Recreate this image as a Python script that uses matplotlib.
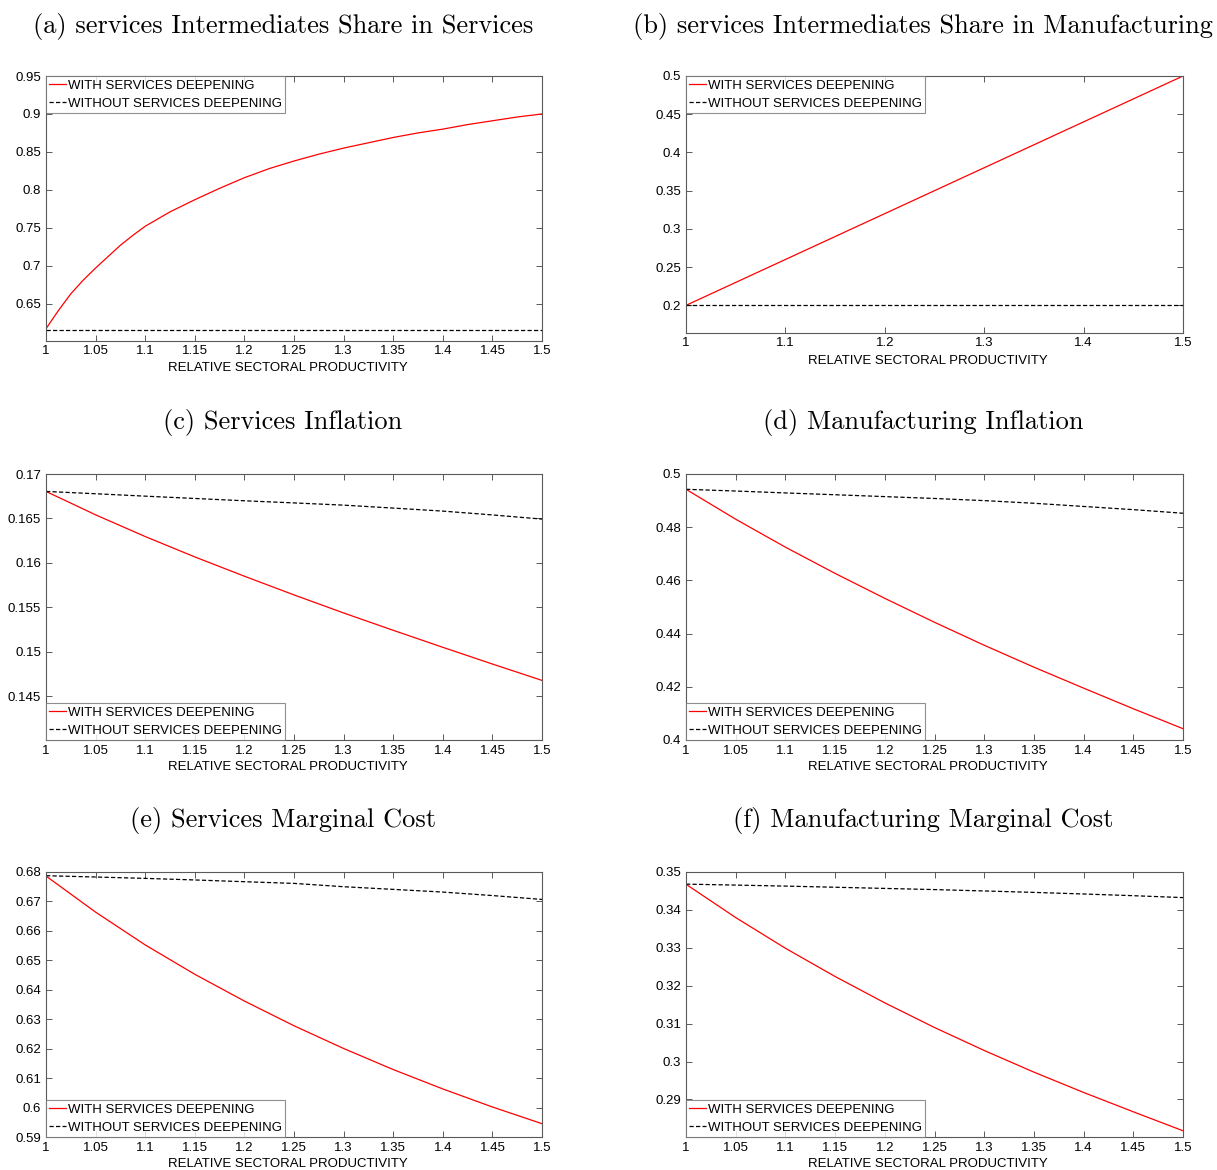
import matplotlib
matplotlib.use('Agg')
import matplotlib.pyplot as plt
from matplotlib.ticker import FuncFormatter

# ---------------- data ----------------
x_fine = [1.0, 1.0125, 1.025, 1.0375, 1.05, 1.0625, 1.075, 1.0875, 1.1, 1.125, 1.15, 1.175,
          1.2, 1.225, 1.25, 1.275, 1.3, 1.325, 1.35, 1.375, 1.4, 1.425, 1.45, 1.475, 1.5]
a_with = [0.617, 0.641, 0.663, 0.681, 0.697, 0.712, 0.727, 0.740, 0.752, 0.771, 0.787, 0.802,
          0.816, 0.828, 0.838, 0.847, 0.855, 0.862, 0.869, 0.875, 0.880, 0.886, 0.891, 0.896, 0.900]
a_without = [0.615] * len(x_fine)

x_b = [1.0, 1.1, 1.2, 1.3, 1.4, 1.5]
b_with = [0.2, 0.26, 0.32, 0.38, 0.44, 0.5]
b_without = [0.2, 0.2, 0.2, 0.2, 0.2, 0.2]

x = [1.0, 1.05, 1.1, 1.15, 1.2, 1.25, 1.3, 1.35, 1.4, 1.45, 1.5]
c_with = [0.16804, 0.16541, 0.16297, 0.16068, 0.15851, 0.15641, 0.15438, 0.15243, 0.15052, 0.14864, 0.14680]
c_without = [0.16804, 0.16778, 0.16751, 0.16725, 0.16699, 0.16675, 0.16650, 0.16617, 0.16583, 0.16540, 0.16493]

d_with = [0.49425, 0.48300, 0.47250, 0.46263, 0.45325, 0.44425, 0.43563, 0.42738, 0.41950, 0.41175, 0.40425]
d_without = [0.49425, 0.49360, 0.49288, 0.49220, 0.49150, 0.49080, 0.49000, 0.48900, 0.48780, 0.48660, 0.48525]

e_with = [0.67863, 0.66637, 0.65524, 0.64526, 0.63617, 0.62778, 0.62006, 0.61291, 0.60632, 0.60019, 0.59452]
e_without = [0.67874, 0.67830, 0.67783, 0.67730, 0.67670, 0.67613, 0.67500, 0.67410, 0.67318, 0.67200, 0.67068]

f_with = [0.34677, 0.33798, 0.32989, 0.32243, 0.31548, 0.30898, 0.30292, 0.29721, 0.29185, 0.28675, 0.28174]
f_without = [0.34680, 0.34655, 0.34628, 0.34598, 0.34567, 0.34536, 0.34500, 0.34462, 0.34420, 0.34375, 0.34325]

titles = ["(a) services Intermediates Share in Services",
          "(b) services Intermediates Share in Manufacturing",
          "(c) Services Inflation",
          "(d) Manufacturing Inflation",
          "(e) Services Marginal Cost",
          "(f) Manufacturing Marginal Cost"]
xlabel = "RELATIVE SECTORAL PRODUCTIVITY"
leg_labels = ["WITH SERVICES DEEPENING", "WITHOUT SERVICES DEEPENING"]

xt_fine = [1.0, 1.05, 1.1, 1.15, 1.2, 1.25, 1.3, 1.35, 1.4, 1.45, 1.5]
xt_b = [1.0, 1.1, 1.2, 1.3, 1.4, 1.5]
yt_a = [0.65, 0.7, 0.75, 0.8, 0.85, 0.9, 0.95]
yt_b = [0.2, 0.25, 0.3, 0.35, 0.4, 0.45, 0.5]
yt_c = [0.145, 0.15, 0.155, 0.16, 0.165, 0.17]
yt_d = [0.4, 0.42, 0.44, 0.46, 0.48, 0.5]
yt_e = [0.59, 0.6, 0.61, 0.62, 0.63, 0.64, 0.65, 0.66, 0.67, 0.68]
yt_f = [0.29, 0.3, 0.31, 0.32, 0.33, 0.34, 0.35]

# ---------------- layout ----------------
W, H = 1217, 1170
fig = plt.figure(figsize=(W / 100, H / 100), dpi=100)
plt.rcParams['font.family'] = ['Liberation Sans', 'DejaVu Sans']

def rect(l, t, r, b):
    return [l / W, 1 - b / H, (r - l) / W, (b - t) / H]

panels = [
    dict(rect=rect(46, 76, 542, 340.5), xs=x_fine, w=a_with, wo=a_without, xt=xt_fine, yt=yt_a,
         ylim=(0.6015, 0.95), loc='upper left', title_xy=(283, 26), lab_y=-0.083),
    dict(rect=rect(686, 76, 1183, 332.5), xs=x_b, w=b_with, wo=b_without, xt=xt_b, yt=yt_b,
         ylim=(0.1645, 0.5), loc='upper left', title_xy=(923, 26), lab_y=-0.088),
    dict(rect=rect(46, 474, 542, 740), xs=x, w=c_with, wo=c_without, xt=xt_fine, yt=yt_c,
         ylim=(0.1401, 0.17), loc='lower left', title_xy=(283, 422), lab_y=-0.08),
    dict(rect=rect(686, 474, 1183, 740), xs=x, w=d_with, wo=d_without, xt=xt_fine, yt=yt_d,
         ylim=(0.4, 0.5), loc='lower left', title_xy=(923, 422), lab_y=-0.08),
    dict(rect=rect(46, 872, 542, 1137), xs=x, w=e_with, wo=e_without, xt=xt_fine, yt=yt_e,
         ylim=(0.59, 0.68), loc='lower left', title_xy=(283, 820), lab_y=-0.08),
    dict(rect=rect(686, 872, 1183, 1137), xs=x, w=f_with, wo=f_without, xt=xt_fine, yt=yt_f,
         ylim=(0.2801, 0.35), loc='lower left', title_xy=(923, 820), lab_y=-0.08),
]

fmt = FuncFormatter(lambda v, p: f"{v:g}")
box_col = '0.35'

for p, title in zip(panels, titles):
    ax = fig.add_axes(p['rect'])
    ax.plot(p['xs'], p['w'], color='red', lw=0.9, label=leg_labels[0])
    ax.plot(p['xs'], p['wo'], color='black', lw=0.9, linestyle=(0, (3.4, 1.8)), label=leg_labels[1])
    ax.set_xlim(1.0, 1.5)
    ax.set_ylim(*p['ylim'])
    ax.set_xticks(p['xt'])
    ax.set_yticks(p['yt'])
    ax.xaxis.set_major_formatter(fmt)
    ax.yaxis.set_major_formatter(fmt)
    ax.tick_params(direction='in', top=True, right=True, length=4, width=0.7,
                   color=box_col, labelsize=9.5, pad=3.5, labelcolor='black')
    for s in ax.spines.values():
        s.set_color(box_col)
        s.set_linewidth(0.8)
    ax.set_xlabel(xlabel, fontsize=9.5)
    ax.xaxis.set_label_coords(0.487, p['lab_y'])
    leg = ax.legend(loc=p['loc'], fontsize=9.5, frameon=True, fancybox=False,
                    borderaxespad=0.0, handlelength=1.3, handletextpad=0.1,
                    labelspacing=0.45, borderpad=0.25)
    leg.get_frame().set_edgecolor('0.45')
    leg.get_frame().set_linewidth(0.8)
    tx, ty = p['title_xy']
    fig.text(tx / W, 1 - ty / H, title, family='cmr10', fontsize=19,
             ha='center', va='center')

fig.savefig('out.png', dpi=100)
